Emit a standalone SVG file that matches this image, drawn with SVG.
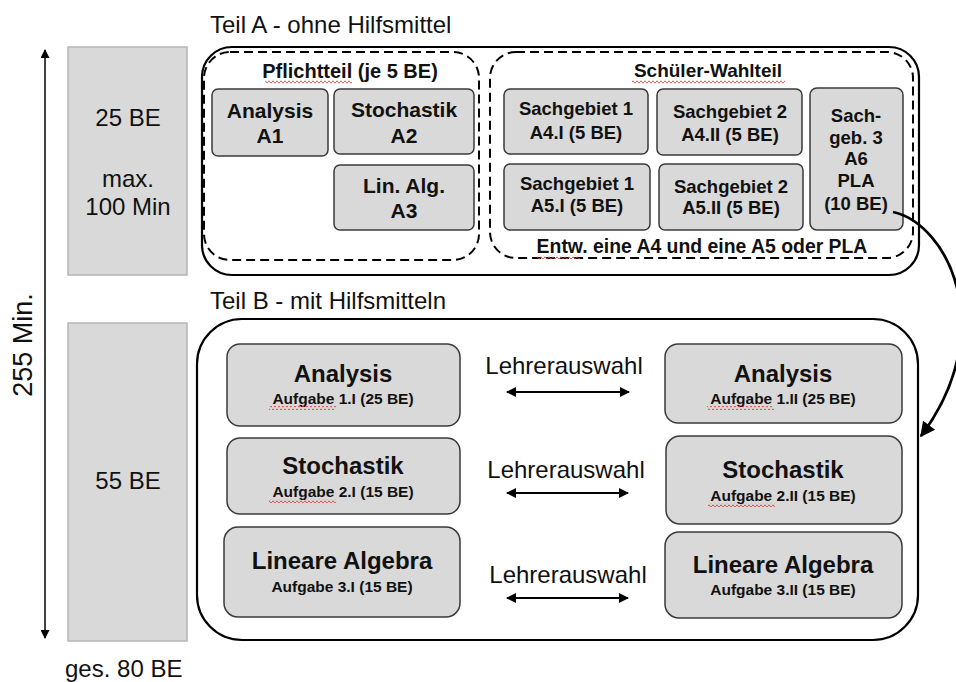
<svg xmlns="http://www.w3.org/2000/svg" width="956" height="682" viewBox="0 0 956 682">
<style>
.lbl{font-family:"Liberation Sans",Arial,sans-serif;font-size:24px;fill:#111}
.b{font-family:"Liberation Sans",Arial,sans-serif;font-weight:bold;fill:#111;text-anchor:middle}
.col{fill:#d9d9d9;stroke:#b5b5b5;stroke-width:1.5}
.node{fill:#d9d9d9;stroke:#3a3a3a;stroke-width:1.5}
.outer{fill:none;stroke:#000;stroke-width:2.2}
.dash{fill:none;stroke:#000;stroke-width:2;stroke-dasharray:9 5}
.conn{fill:none;stroke:#000}
</style>
<defs>
<marker id="ah" viewBox="0 0 10 10" refX="9" refY="5" markerWidth="12" markerHeight="10" orient="auto-start-reverse" markerUnits="userSpaceOnUse">
<path d="M0,0 L10,5 L0,10 z" fill="#000"/>
</marker>
<marker id="ahs" viewBox="0 0 10 10" refX="9" refY="5" markerWidth="10" markerHeight="9" orient="auto-start-reverse" markerUnits="userSpaceOnUse">
<path d="M0,0 L10,5 L0,10 z" fill="#000"/>
</marker>
<marker id="ahc" viewBox="0 0 10 10" refX="9" refY="5" markerWidth="18" markerHeight="15" orient="auto" markerUnits="userSpaceOnUse">
<path d="M0,0 L10,5 L0,10 z" fill="#000"/>
</marker>
<pattern id="wv" width="4" height="4" patternUnits="userSpaceOnUse">
<path d="M0,2 L1,0.8 L2,2 L3,3.2 L4,2" fill="none" stroke="#e03030" stroke-width="0.8"/>
</pattern>
</defs>

<!-- Left columns -->
<g id="colA">
<rect class="col" x="68" y="47" width="119" height="228"/>
<text class="lbl" x="128" y="126" text-anchor="middle">25 BE</text>
<text class="lbl" x="128" y="187" text-anchor="middle">max.</text>
<text class="lbl" x="128" y="215" text-anchor="middle">100 Min</text>
</g>
<g id="colB">
<rect class="col" x="68" y="323" width="119" height="318"/>
<text class="lbl" x="128" y="489" text-anchor="middle">55 BE</text>
</g>
<g id="time">
<text class="lbl" x="0" y="0" style="font-size:27px" text-anchor="middle" transform="translate(32,345) rotate(-90)">255 Min.</text>
</g>
<text class="lbl" x="65" y="677">ges. 80 BE</text>

<!-- Teil A -->
<g id="teilA">
<text class="lbl" x="210" y="33">Teil A - ohne Hilfsmittel</text>
<rect class="outer" x="202" y="47" width="717" height="228" rx="30"/>
</g>
<g id="pflicht">
<rect class="dash" x="204" y="52" width="275" height="208" rx="26"/>
<text class="b" x="350" y="78" font-size="20">Pflichtteil (je 5 BE)</text>
<rect x="265" y="80" width="87" height="4" fill="url(#wv)"/>
</g>
<g id="A1">
<rect class="node" x="212" y="89" width="116" height="67" rx="6"/>
<text class="b" x="270" y="118" font-size="21">Analysis</text>
<text class="b" x="270" y="143" font-size="21">A1</text>
</g>
<g id="A2">
<rect class="node" x="334" y="89" width="140" height="65" rx="6"/>
<text class="b" x="404" y="117" font-size="21">Stochastik</text>
<text class="b" x="404" y="143" font-size="21">A2</text>
</g>
<g id="A3">
<rect class="node" x="334" y="165" width="140" height="65" rx="6"/>
<text class="b" x="404" y="193" font-size="21">Lin. Alg.</text>
<text class="b" x="404" y="218" font-size="21">A3</text>
</g>

<g id="wahl">
<rect class="dash" x="490" y="52" width="423" height="206" rx="26"/>
<text class="b" x="708" y="77" font-size="19">Schüler-Wahlteil</text>
<rect x="632" y="80" width="153" height="4" fill="url(#wv)"/>
<text class="b" x="702" y="253" font-size="19.4">Entw. eine A4 und eine A5 oder PLA</text>
<rect x="537" y="255" width="43" height="4" fill="url(#wv)"/>
</g>
<g id="A4I">
<rect class="node" x="504" y="89" width="144" height="65" rx="6"/>
<text class="b" x="576" y="115" font-size="18.5">Sachgebiet 1</text>
<text class="b" x="576" y="139" font-size="18.5">A4.I (5 BE)</text>
</g>
<g id="A4II">
<rect class="node" x="657" y="89" width="145" height="66" rx="6"/>
<text class="b" x="730" y="118" font-size="18.5">Sachgebiet 2</text>
<text class="b" x="730" y="141" font-size="18.5">A4.II (5 BE)</text>
</g>
<g id="A5I">
<rect class="node" x="504" y="164" width="146" height="66" rx="6"/>
<text class="b" x="577" y="190" font-size="18.5">Sachgebiet 1</text>
<text class="b" x="577" y="212" font-size="18.5">A5.I (5 BE)</text>
</g>
<g id="A5II">
<rect class="node" x="659" y="164" width="144" height="66" rx="6"/>
<text class="b" x="731" y="193" font-size="18.5">Sachgebiet 2</text>
<text class="b" x="731" y="214" font-size="18.5">A5.II (5 BE)</text>
</g>
<g id="A6">
<rect class="node" x="810" y="88" width="93" height="142" rx="7"/>
<text class="b" x="856" y="122" font-size="18.5">Sach-</text>
<text class="b" x="856" y="144" font-size="18.5">geb. 3</text>
<text class="b" x="856" y="165" font-size="18.5">A6</text>
<text class="b" x="856" y="187" font-size="18.5">PLA</text>
<text class="b" x="856" y="210" font-size="18.5">(10 BE)</text>
</g>

<!-- Teil B -->
<g id="teilB">
<text class="lbl" x="210" y="309">Teil B - mit Hilfsmitteln</text>
<rect class="outer" x="197" y="319" width="721" height="321" rx="45"/>
</g>
<g id="B1I">
<rect class="node" x="227" y="344" width="233" height="82" rx="13"/>
<text class="b" x="343" y="382" font-size="24">Analysis</text>
<text class="b" x="343" y="404" font-size="15.5">Aufgabe 1.I (25 BE)</text>
<rect x="269" y="406" width="67" height="4" fill="url(#wv)"/>
</g>
<g id="B2I">
<rect class="node" x="227" y="438" width="233" height="76" rx="13"/>
<text class="b" x="343" y="474" font-size="24">Stochastik</text>
<text class="b" x="343" y="497" font-size="15.5">Aufgabe 2.I (15 BE)</text>
<rect x="269" y="499" width="67" height="4" fill="url(#wv)"/>
</g>
<g id="B3I">
<rect class="node" x="224" y="527" width="236" height="90" rx="14"/>
<text class="b" x="342" y="569" font-size="24">Lineare Algebra</text>
<text class="b" x="342" y="592" font-size="15.5">Aufgabe 3.I (15 BE)</text>
</g>
<g id="B1II">
<rect class="node" x="665" y="344" width="237" height="79" rx="13"/>
<text class="b" x="783" y="382" font-size="24">Analysis</text>
<text class="b" x="783" y="404" font-size="15.5">Aufgabe 1.II (25 BE)</text>
<rect x="707" y="406" width="67" height="4" fill="url(#wv)"/>
</g>
<g id="B2II">
<rect class="node" x="666" y="436" width="236" height="88" rx="14"/>
<text class="b" x="783" y="478" font-size="24">Stochastik</text>
<text class="b" x="783" y="501" font-size="15.5">Aufgabe 2.II (15 BE)</text>
<rect x="708" y="503" width="67" height="4" fill="url(#wv)"/>
</g>
<g id="B3II">
<rect class="node" x="665" y="532" width="237" height="86" rx="14"/>
<text class="b" x="783" y="573" font-size="24">Lineare Algebra</text>
<text class="b" x="783" y="595" font-size="15.5">Aufgabe 3.II (15 BE)</text>
</g>

<g id="connectors">
<line class="conn" x1="45" y1="50" x2="45" y2="638" style="stroke-width:1.5" marker-start="url(#ahs)" marker-end="url(#ahs)"/>
<line class="conn" x1="507" y1="392" x2="629" y2="392" style="stroke-width:2" marker-start="url(#ah)" marker-end="url(#ah)"/>
<line class="conn" x1="507" y1="493" x2="628" y2="493" style="stroke-width:2" marker-start="url(#ah)" marker-end="url(#ah)"/>
<line class="conn" x1="507" y1="598" x2="628" y2="598" style="stroke-width:2" marker-start="url(#ah)" marker-end="url(#ah)"/>
<path class="conn" d="M893,212 C948,224 1000,330 921,436" style="stroke-width:2.8" marker-end="url(#ahc)"/>
<text class="lbl" x="564" y="374" text-anchor="middle">Lehrerauswahl</text>
<text class="lbl" x="566" y="478" text-anchor="middle">Lehrerauswahl</text>
<text class="lbl" x="568" y="583" text-anchor="middle">Lehrerauswahl</text>
</g>
</svg>
